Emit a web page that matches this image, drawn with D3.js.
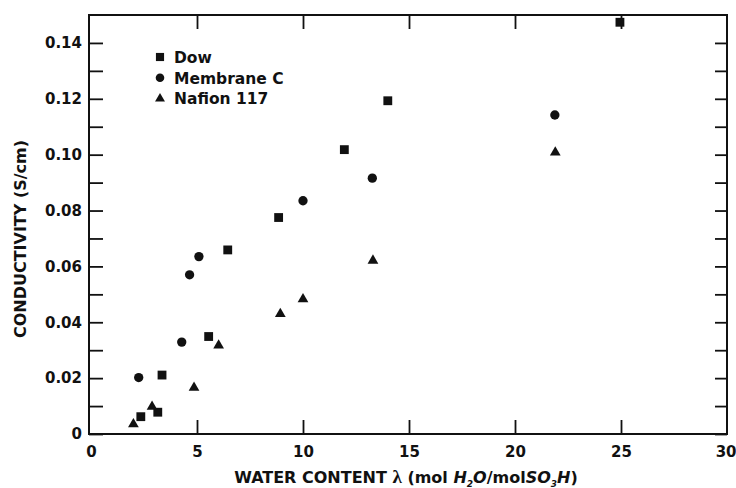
<!DOCTYPE html>
<html>
<head>
<meta charset="utf-8">
<script src="https://cdn.jsdelivr.net/npm/d3@7"></script>
<style>
  html, body { margin: 0; padding: 0; background: #fff; }
  svg { display: block; }
  text { font-family: "DejaVu Sans", sans-serif; font-weight: bold; fill: #111; }
</style>
</head>
<body>
<svg id="chart" width="736" height="488"></svg>
<script>
// ---- data ----
const dowLambda = [2.35, 3.15, 3.35, 5.55, 6.45, 8.85, 11.95, 14.0, 24.95];
const dowSigma  = [0.0062, 0.0078, 0.0211, 0.0349, 0.0659, 0.0775, 0.1018, 0.1193, 0.1474];

const memCLambda = [2.25, 4.28, 4.65, 5.09, 10.0, 13.27, 21.88];
const memCSigma  = [0.0202, 0.0329, 0.057, 0.0635, 0.0835, 0.0916, 0.1142];

const nafionLambda = [2.0, 2.88, 4.86, 6.02, 8.93, 10.0, 13.3, 21.9];
const nafionSigma  = [0.0035, 0.0098, 0.0166, 0.0317, 0.043, 0.0483, 0.0621, 0.1008];

const seriesNames = ["Dow", "Membrane C", "Nafion 117"];
const xTicks = [0, 5, 10, 15, 20, 25, 30];
const yTicks = [0, 0.01, 0.02, 0.03, 0.04, 0.05, 0.06, 0.07, 0.08, 0.09, 0.10, 0.11, 0.12, 0.13, 0.14];
const yLabels = [0, 0.02, 0.04, 0.06, 0.08, 0.10, 0.12, 0.14];

// ---- layout ----
const W = 736, H = 488;
const m = { left: 89, top: 15, right: 9, bottom: 54 };
const svg = d3.select("#chart");

const x = d3.scaleLinear().domain([0, 30]).range([91, W - m.right]);
const y = d3.scaleLinear().domain([0, 0.15]).range([H - m.bottom, m.top]);

const series = [
  { name: seriesNames[0], xs: dowLambda, ys: dowSigma, sym: d3.symbolSquare, size: 78 },
  { name: seriesNames[1], xs: memCLambda, ys: memCSigma, sym: d3.symbolCircle, size: 68 },
  { name: seriesNames[2], xs: nafionLambda, ys: nafionSigma, sym: d3.symbolTriangle, size: 50 }
];

// ---- axes ----
const fmt = d => d === 0 ? "0" : d3.format(".2f")(d);
const yLabelSet = new Set(yLabels.map(v => v.toFixed(2)));

const gLeft = svg.append("g").attr("transform", `translate(${m.left},0)`)
  .call(d3.axisLeft(y).tickValues(yTicks).tickSizeInner(-14).tickSizeOuter(0).tickPadding(7)
    .tickFormat(d => yLabelSet.has(d.toFixed(2)) ? fmt(d) : ""));
const gRight = svg.append("g").attr("transform", `translate(${W - m.right},0)`)
  .call(d3.axisRight(y).tickValues(yTicks).tickSizeInner(-12).tickSizeOuter(0).tickFormat(""));
const gBottom = svg.append("g").attr("transform", `translate(0,${H - m.bottom})`)
  .call(d3.axisBottom(x).tickValues(xTicks).tickSizeInner(-14).tickSizeOuter(0).tickPadding(12)
    .tickFormat(d3.format("d")));
const gTop = svg.append("g").attr("transform", `translate(0,${m.top})`)
  .call(d3.axisTop(x).tickValues(xTicks.slice(1, -1)).tickSizeInner(-14).tickSizeOuter(0).tickFormat(""));

[gLeft, gRight, gBottom, gTop].forEach(g => {
  g.select(".domain").remove();
  g.selectAll(".tick line").attr("stroke", "#111").attr("stroke-width", 1.8);
  g.selectAll(".tick text").attr("font-family", "DejaVu Sans").attr("font-weight", "bold")
    .attr("font-size", 15).attr("fill", "#111");
});
// end ticks on the bottom coincide with the frame: hide their lines
gBottom.selectAll(".tick").filter(d => d === 0 || d === 30).select("line").remove();
// keep the last label inside the picture
gBottom.selectAll(".tick").filter(d => d === 30).select("text")
  .attr("text-anchor", "end").attr("x", W - x(30));

// frame
svg.append("rect")
  .attr("x", m.left).attr("y", m.top)
  .attr("width", W - m.right - m.left).attr("height", H - m.bottom - m.top)
  .attr("fill", "none").attr("stroke", "#111").attr("stroke-width", 2);

// ---- points ----
series.forEach(s => {
  const pts = s.xs.map((v, i) => [v, s.ys[i]]);
  svg.append("g").selectAll("path").data(pts).join("path")
    .attr("d", d3.symbol().type(s.sym).size(s.size))
    .attr("transform", d => `translate(${x(d[0])},${y(d[1])})`)
    .attr("fill", "#111");
});

// ---- legend ----
const leg = svg.append("g").attr("transform", "translate(160,57)");
series.forEach((s, i) => {
  const row = leg.append("g").attr("transform", `translate(0,${i * 20.8})`);
  row.append("path").attr("d", d3.symbol().type(s.sym).size(s.size * 0.85)).attr("fill", "#111");
  row.append("text").attr("x", 14).attr("y", 5.8).attr("font-size", 15.5).text(s.name);
});

// ---- axis titles ----
svg.append("text")
  .attr("transform", "translate(26,239) rotate(-90)")
  .attr("text-anchor", "middle").attr("font-size", 16)
  .text("CONDUCTIVITY (S/cm)");

const xt = svg.append("text").attr("x", 406).attr("y", 483)
  .attr("text-anchor", "middle").attr("font-size", 16);
xt.append("tspan").text("WATER CONTENT ");
xt.append("tspan").attr("font-family", "Liberation Serif").attr("font-size", 19).text(" λ");
xt.append("tspan").text(" (mol ");
xt.append("tspan").attr("font-style", "italic").text("H");
xt.append("tspan").attr("font-size", 9).attr("dy", 4).attr("font-style", "italic").text("2");
xt.append("tspan").attr("dy", -4).attr("font-style", "italic").text("O");
xt.append("tspan").text("/mol");
xt.append("tspan").attr("font-style", "italic").text("SO");
xt.append("tspan").attr("font-size", 9).attr("dy", 4).attr("font-style", "italic").text("3");
xt.append("tspan").attr("dy", -4).attr("font-style", "italic").text("H");
xt.append("tspan").text(")");
</script>
</body>
</html>
